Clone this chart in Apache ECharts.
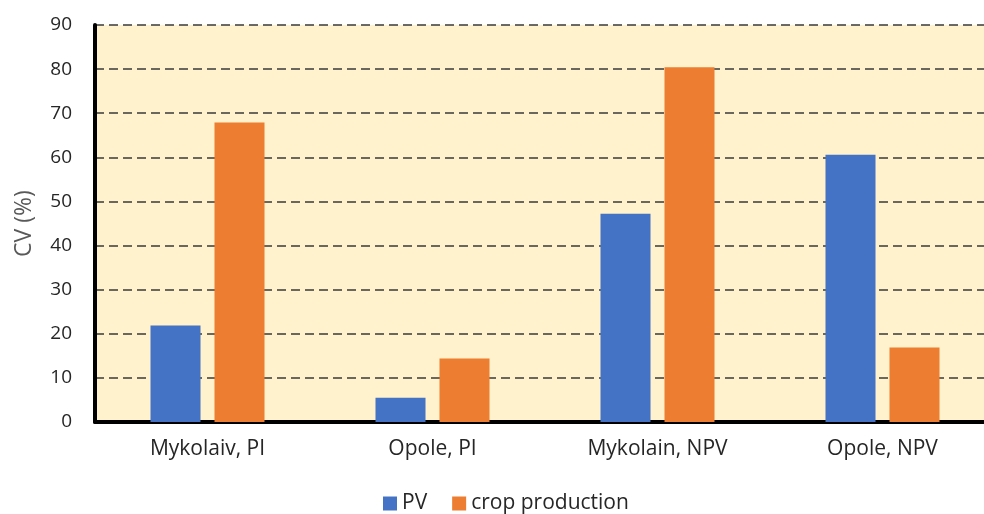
<!DOCTYPE html>
<html>
<head>
<meta charset="utf-8">
<style>
  html, body { margin: 0; padding: 0; background: #fff; }
  #chart { width: 984px; height: 514px; }
</style>
<script src="https://cdn.jsdelivr.net/npm/echarts@6/dist/echarts.min.js"></script>
</head>
<body>
<div id="chart"></div>
<script>
// values
const categories = ['Mykolaiv, PI', 'Opole, PI', 'Mykolain, NPV', 'Opole, NPV'];
const pvValues = [21.9, 5.5, 47.2, 60.6];
const cropValues = [67.9, 14.4, 80.4, 16.9];

const FONT = 'Open Sans';

const chart = echarts.init(document.getElementById('chart'));
chart.setOption({
  animation: false,
  textStyle: { fontFamily: FONT },
  grid: {
    left: 95,
    width: 900, // plot runs off the right edge in the original
    top: 25,
    bottom: 92,
    outerBoundsMode: 'none',
    containLabel: false,
    show: true,
    backgroundColor: '#FFF2CC',
    borderWidth: 0,
  },
  legend: {
    bottom: -5,
    left: 378,
    itemWidth: 14,
    itemHeight: 14,
    itemGap: 25,
    icon: 'rect',
    textStyle: { fontSize: 21, color: '#262626', fontFamily: FONT },
    data: ['PV', 'crop production'],
  },
  xAxis: {
    type: 'category',
    data: categories,
    axisLine: { lineStyle: { color: '#000', width: 4 } },
    axisTick: { show: false },
    axisLabel: { fontSize: 21, color: '#262626', margin: 17 },
  },
  yAxis: {
    type: 'value',
    min: 0,
    max: 90,
    interval: 10,
    name: 'CV (%)',
    nameLocation: 'middle',
    nameGap: 59,
    nameTextStyle: { fontSize: 23, color: '#595959' },
    axisLine: { show: true, lineStyle: { color: '#000', width: 4 } },
    axisTick: { show: false },
    axisLabel: { fontSize: 19, color: '#262626', margin: 23 },
    splitLine: {
      lineStyle: { color: '#3a3a3a', width: 1.5, type: [9, 5] },
    },
  },
  series: [
    {
      name: 'PV',
      type: 'bar',
      data: pvValues,
      barWidth: 50,
      barGap: '28%',
      itemStyle: { color: '#4472C4' },
    },
    {
      name: 'crop production',
      type: 'bar',
      data: cropValues,
      barWidth: 50,
      itemStyle: { color: '#ED7D31' },
    },
  ],
});
</script>
</body>
</html>
